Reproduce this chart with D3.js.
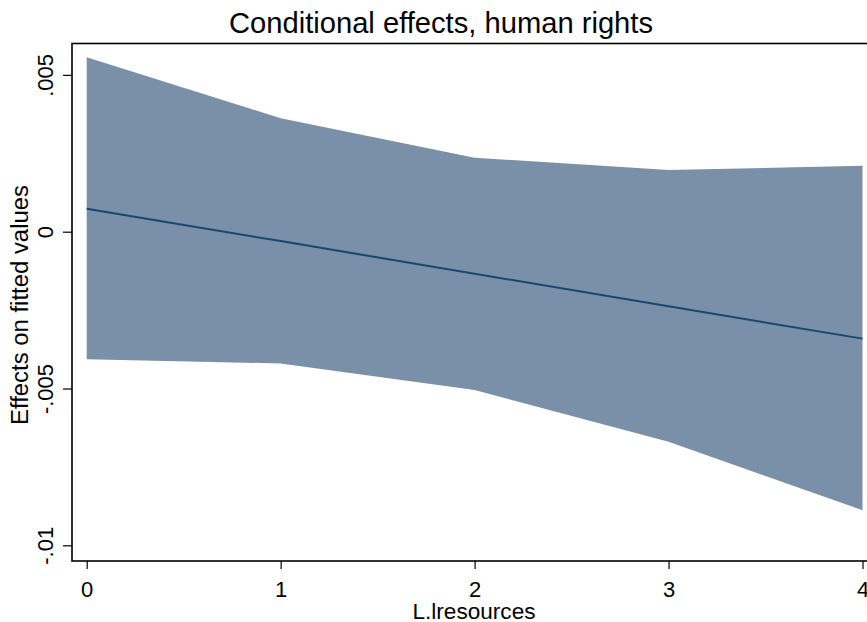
<!DOCTYPE html>
<meta charset="utf-8">
<style>
body { margin: 0; background: #fff; }
text { font-family: "Liberation Sans", Arial, sans-serif; fill: #000; }
</style>
<svg width="867" height="622"></svg>
<script src="https://d3js.org/d3.v7.min.js"></script>
<script>
// values
var xvals = [0, 1, 2, 3, 4];
var effect = [0.00073, -0.00030, -0.00134, -0.00238, -0.00341];
var upper = [0.00556, 0.00362, 0.00236, 0.00197, 0.00210];
var lower = [-0.00407, -0.00420, -0.00505, -0.00670, -0.00888];
var yticks = [0.005, 0, -0.005, -0.01];
var ytickLabels = [".005", "0", "-.005", "-.01"];

var svg = d3.select("svg");
var plotLeft = 72, plotTop = 43.5, plotBottom = 561, plotRight = 880;

var x = d3.scaleLinear().domain([0, 4]).range([86.7, 862.5]);
var y = d3.scaleLinear().domain([-0.0105, 0.006]).range([plotBottom, plotTop]);

var data = xvals.map(function(d, i) {
  return {x: d, e: effect[i], hi: upper[i], lo: lower[i]};
});

var area = d3.area()
    .x(function(d) { return x(d.x); })
    .y0(function(d) { return y(d.lo); })
    .y1(function(d) { return y(d.hi); });

var line = d3.line()
    .x(function(d) { return x(d.x); })
    .y(function(d) { return y(d.e); });

svg.append("path")
    .datum(data)
    .attr("fill", "#7a90a8")
    .attr("d", area);

svg.append("path")
    .datum(data)
    .attr("fill", "none")
    .attr("stroke", "#1a476f")
    .attr("stroke-width", 2)
    .attr("d", line);

// frame (right side falls outside the picture)
svg.append("rect")
    .attr("x", plotLeft)
    .attr("y", plotTop)
    .attr("width", plotRight - plotLeft)
    .attr("height", plotBottom - plotTop)
    .attr("fill", "none")
    .attr("stroke", "#000")
    .attr("stroke-width", 1.6);

var xAxis = svg.append("g")
    .attr("transform", "translate(0," + plotBottom + ")")
    .call(d3.axisBottom(x).tickValues(xvals).tickSize(8).tickFormat(d3.format("d")));
xAxis.select(".domain").remove();
xAxis.selectAll("line").attr("stroke", "#000").attr("stroke-width", 1.2);
xAxis.selectAll("text")
    .attr("font-size", 22)
    .attr("font-family", "Liberation Sans, Arial, sans-serif")
    .attr("fill", "#000")
    .attr("y", 36)
    .attr("dy", 0);

var yAxis = svg.append("g")
    .attr("transform", "translate(" + plotLeft + ",0)")
    .call(d3.axisLeft(y).tickValues(yticks).tickSize(9).tickFormat(function(d, i) { return ytickLabels[i]; }));
yAxis.select(".domain").remove();
yAxis.selectAll("line").attr("stroke", "#000").attr("stroke-width", 1.2);
yAxis.selectAll("text")
    .attr("font-size", 22)
    .attr("font-family", "Liberation Sans, Arial, sans-serif")
    .attr("fill", "#000")
    .attr("text-anchor", "middle")
    .attr("dy", 0)
    .attr("x", 0)
    .attr("transform", "translate(-19,0) rotate(-90)");

svg.append("text")
    .attr("x", 441)
    .attr("y", 33)
    .attr("text-anchor", "middle")
    .attr("font-size", 29)
    .attr("textLength", 424)
    .attr("lengthAdjust", "spacingAndGlyphs")
    .text("Conditional effects, human rights");

svg.append("text")
    .attr("x", 474)
    .attr("y", 619)
    .attr("text-anchor", "middle")
    .attr("font-size", 22)
    .attr("textLength", 123)
    .attr("lengthAdjust", "spacingAndGlyphs")
    .text("L.lresources");

svg.append("text")
    .attr("transform", "translate(28,305) rotate(-90)")
    .attr("text-anchor", "middle")
    .attr("font-size", 23.5)
    .attr("textLength", 240)
    .attr("lengthAdjust", "spacingAndGlyphs")
    .text("Effects on fitted values");
</script>
